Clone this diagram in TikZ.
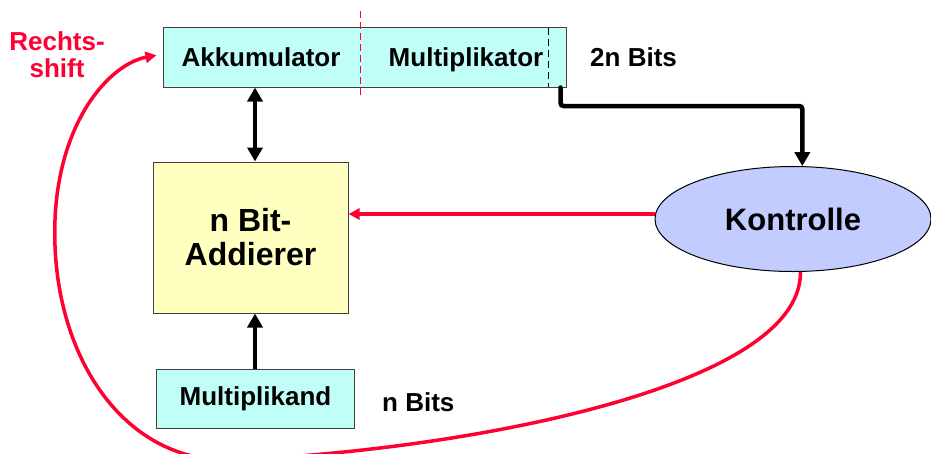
\documentclass[tikz,border=0pt]{standalone}
\usepackage{fontspec}
\setmainfont{Liberation Sans}
\usetikzlibrary{arrows.meta,shapes.geometric}
\definecolor{regfill}{RGB}{192,255,248}
\definecolor{addfill}{RGB}{255,255,192}
\definecolor{ctlfill}{RGB}{194,204,255}
\definecolor{sigred}{RGB}{255,0,51}
\begin{document}
\begin{tikzpicture}[x=1pt,y=-1pt,
  box/.style={draw=black!75, line width=1pt, inner sep=0pt},
  lbl/.style={font=\fontsize{26}{28}\selectfont\bfseries, inner sep=0pt},
  big/.style={font=\fontsize{32}{34}\selectfont\bfseries, align=center},
  bus/.style={line width=4.5pt},
  bhead/.tip={Triangle[length=14pt,width=15pt]},
  ctlline/.style={sigred, line width=3.5pt, -{Triangle[length=11pt,width=11pt]}}]
\useasboundingbox (0,0) rectangle (931,453);

% register pair: accumulator | multiplier
\node[box, fill=regfill, minimum width=403pt, minimum height=59.5pt] (reg) at (364.5,57.25) {};
\node[lbl, anchor=base] (akku) at (261,66) {Akkumulator};
\node[lbl, anchor=base] (mult) at (466,66) {Multiplikator};
\draw[sigred, line width=1pt, dash pattern=on 7pt off 4pt] (360,11) -- (360,95);
\draw[black, line width=1pt, dash pattern=on 7pt off 4pt] (548,28) -- (548,87);
\node[lbl, anchor=base west] (wide) at (590,66) {2n Bits};

% shift label
\node[lbl, anchor=base, text=sigred] (rs1) at (57,50.5) {Rechts-};
\node[lbl, anchor=base, text=sigred] (rs2) at (57,77.5) {shift};

% adder, multiplicand, control
\node[box, fill=addfill, minimum width=195pt, minimum height=151pt, big] (add) at (250.5,237.5) {n Bit-\\Addierer};
\node[box, fill=regfill, minimum width=198pt, minimum height=59.5pt, lbl] (mand) at (255.5,399) {Multiplikand};
\node[lbl, anchor=base west] (narrow) at (382,411) {n Bits};
\node[ellipse, draw=black, line width=1pt, fill=ctlfill, minimum width=276pt, minimum height=105pt, inner sep=0pt,
      font=\fontsize{31}{34}\selectfont\bfseries] (ctl) at (793,219) {Kontrolle};

% data paths
\coordinate (busx) at (255,0);
\coordinate (elbow) at (0,106);
\draw[bus, bhead-bhead] (busx |- reg.south) -- (busx |- add.north);
\draw[bus, -bhead] (busx |- mand.north) -- (busx |- add.south);
\draw[bus, -bhead, rounded corners=3pt, line cap=round] ([xshift=-6pt]reg.south east) |- (ctl.80 |- elbow) -- (ctl.80);

% control signals
\draw[ctlline] (ctl.west |- 0,214) -- (add.east |- 0,214);
\begin{scope}
\clip (0,0) rectangle (931,453);
\draw[ctlline] (ctl.-82) .. controls (802,390) and (450,452) .. (230,460)
   .. controls (120,462) and (50,350) .. (55,220)
   .. controls (59,120) and (110,64) .. ([xshift=-6pt,yshift=2pt]reg.west);
\end{scope}
\end{tikzpicture}
\end{document}
